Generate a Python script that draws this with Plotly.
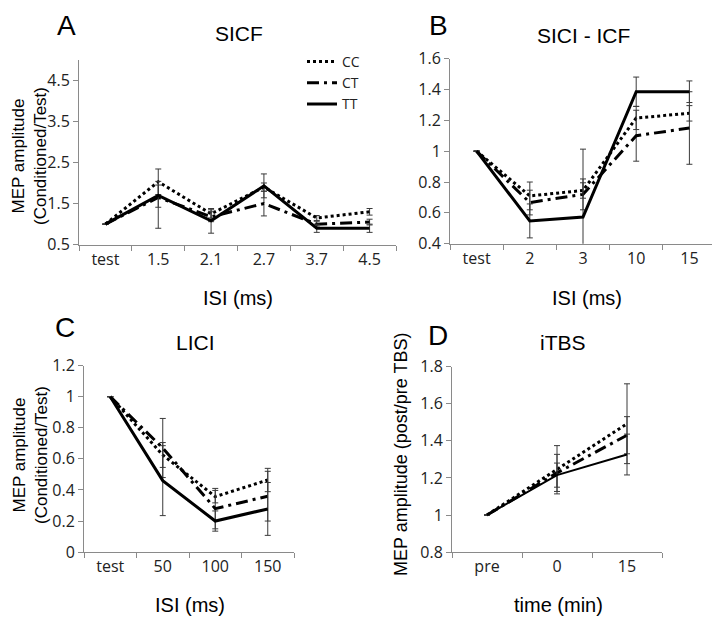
import plotly.graph_objects as go

# ---------------- data ----------------
A_cats = ["test", "1.5", "2.1", "2.7", "3.7", "4.5"]
A_CC = [1.0, 2.03, 1.25, 1.9, 1.15, 1.3]
A_CT = [1.0, 1.65, 1.18, 1.5, 1.0, 1.05]
A_TT = [1.0, 1.7, 1.08, 1.93, 0.9, 0.9]
A_CC_up = [None, 0.31, 0.1, 0.1, 0.06, 0.08]
A_CC_dn = [None, 0.31, 0.1, 0.1, 0.06, 0.08]
A_CT_up = [None, 0.3, 0.12, 0.3, 0.07, 0.07]
A_CT_dn = [None, 0.24, 0.12, 0.3, 0.07, 0.07]
A_TT_up = [None, 0.34, 0.3, 0.29, 0.1, 0.1]
A_TT_dn = [None, 0.8, 0.3, 0.29, 0.1, 0.1]

B_cats = ["test", "2", "3", "10", "15"]
B_CC = [1.0, 0.71, 0.745, 1.215, 1.245]
B_CT = [1.0, 0.667, 0.72, 1.10, 1.15]
B_TT = [1.0, 0.548, 0.573, 1.385, 1.385]
B_CC_err = [None, 0.09, 0.05, 0.075, 0.05]
B_CT_err = [None, 0.08, 0.1, 0.165, 0.235]
B_TT_err = [None, 0.11, 0.44, 0.095, 0.07]

C_cats = ["test", "50", "100", "150"]
C_CC = [1.0, 0.625, 0.357, 0.464]
C_CT = [1.0, 0.67, 0.28, 0.36]
C_TT = [1.0, 0.46, 0.2, 0.278]
C_CC_err = [None, 0.08, 0.04, 0.075]
C_CT_err = [None, 0.19, 0.13, 0.16]
C_TT_err = [None, 0.225, 0.065, 0.17]

D_cats = ["pre", "0", "15"]
D_CC = [1.0, 1.244, 1.492]
D_CT = [1.0, 1.227, 1.43]
D_TT = [1.0, 1.215, 1.326]
D_CC_err = [None, 0.13, 0.215]
D_CT_err = [None, 0.1, 0.1]
D_TT_err = [None, 0.065, 0.11]

series_names = ["CC", "CT", "TT"]

# ---------------- styles ----------------
OFF = 8  # page body margin of the browser
W, H = 720 - OFF, 630 - OFF
AXIS_COL = "#8a8a8a"
ERR_COL = "#3a3a3a"
TICK_FONT = dict(family="Open Sans, Lato, sans-serif", size=16, color="#222222")
TITLE_FAMILY = "Liberation Sans, Arial, sans-serif"

styles = {
    "CC": dict(color="black", width=3, dash="dot"),
    "CT": dict(color="black", width=3, dash="12px,5px,3px,5px"),
    "TT": dict(color="black", width=3, dash="solid"),
}


def px_x(p):
    return (p - OFF) / W


def px_y(p):
    return 1 - (p - OFF) / H


fig = go.Figure()


def add_panel(idx, cats, vals, ups, dns, show_legend, lw_tt=3):
    xa = "x" if idx == 1 else f"x{idx}"
    ya = "y" if idx == 1 else f"y{idx}"
    for name, v, u, d in zip(series_names, vals, ups, dns):
        st = dict(styles[name])
        if name == "TT":
            st["width"] = lw_tt
        fig.add_trace(go.Scatter(
            x=cats, y=v, mode="lines", name=name, line=st,
            xaxis=xa, yaxis=ya, showlegend=show_legend,
            error_y=dict(type="data", array=u, arrayminus=d, symmetric=False,
                         color=ERR_COL, thickness=1, width=3),
        ))


add_panel(1, A_cats, [A_CC, A_CT, A_TT], [A_CC_up, A_CT_up, A_TT_up],
          [A_CC_dn, A_CT_dn, A_TT_dn], True)
add_panel(2, B_cats, [B_CC, B_CT, B_TT], [B_CC_err, B_CT_err, B_TT_err],
          [B_CC_err, B_CT_err, B_TT_err], False)
add_panel(3, C_cats, [C_CC, C_CT, C_TT], [C_CC_err, C_CT_err, C_TT_err],
          [C_CC_err, C_CT_err, C_TT_err], False)
add_panel(4, D_cats, [D_CC, D_CT, D_TT], [D_CC_err, D_CT_err, D_TT_err],
          [D_CC_err, D_CT_err, D_TT_err], False, lw_tt=2)


def xaxis(dom, n, anchor):
    return dict(domain=dom, type="category", range=[-0.5, n - 0.5],
                showline=True, linecolor=AXIS_COL, linewidth=1,
                ticks="outside", tickson="boundaries", ticklen=5,
                tickcolor=AXIS_COL, tickfont=TICK_FONT, showgrid=False,
                zeroline=False, anchor=anchor, fixedrange=True)


def yaxis(dom, rng, dtick, anchor):
    return dict(domain=dom, range=rng, dtick=dtick, tick0=rng[0],
                showline=True, linecolor=AXIS_COL, linewidth=1,
                ticks="outside", ticklen=5, tickcolor=AXIS_COL,
                tickfont=TICK_FONT, showgrid=False, zeroline=False,
                anchor=anchor, fixedrange=True)


fig.update_layout(
    width=W, height=H,
    margin=dict(l=0, r=0, t=0, b=0),
    paper_bgcolor="white", plot_bgcolor="white",
    xaxis=xaxis([px_x(79), px_x(396)], len(A_cats), "y"),
    yaxis=yaxis([px_y(242), px_y(50)], [0.5, 5.0], 1.0, "x"),
    xaxis2=xaxis([px_x(450), px_x(716)], len(B_cats), "y2"),
    yaxis2=yaxis([px_y(241), px_y(49)], [0.4, 1.6], 0.2, "x2"),
    xaxis3=xaxis([px_x(84), px_x(294)], len(C_cats), "y3"),
    yaxis3=yaxis([px_y(560.7), px_y(367.3)], [0, 1.2], 0.2, "x3"),
    xaxis4=xaxis([px_x(452), px_x(662)], len(D_cats), "y4"),
    yaxis4=yaxis([px_y(560.7), px_y(368.3)], [0.8, 1.8], 0.2, "x4"),
    showlegend=True,
    legend=dict(x=px_x(302), y=px_y(36), xanchor="left", yanchor="top",
                bgcolor="rgba(0,0,0,0)", tracegroupgap=0,
                font=dict(family="Open Sans, Lato, sans-serif", size=14, color="#222222")),
)

ann = []


def text(x, y, s, size, angle=0):
    ann.append(dict(x=px_x(x), y=px_y(y), xref="paper", yref="paper",
                    text=s, showarrow=False, textangle=angle,
                    xanchor="center", yanchor="middle",
                    font=dict(family=TITLE_FAMILY, size=size, color="black")))


# panel letters
text(67, 15, "A", 28)
text(438, 15, "B", 28)
text(65, 328, "C", 28)
text(438, 336, "D", 28)
# panel titles
text(239, 23, "SICF", 21)
text(583, 25, "SICI - ICF", 21)
text(195, 343, "LICI", 21)
text(563, 343, "iTBS", 21)
# x-axis titles
text(238, 297, "ISI (ms)", 20)
text(587, 297, "ISI (ms)", 20)
text(190, 615, "ISI (ms)", 20)
text(558, 615, "time (min)", 20)
# y-axis titles
text(30, 150, "MEP amplitude<br>(Conditioned/Test)", 17, -90)
text(30, 460, "MEP amplitude<br>(Conditioned/Test)", 17, -90)
text(401, 460, "MEP amplitude (post/pre TBS)", 18, -90)

fig.update_layout(annotations=ann)

fig.write_html("out.html")
